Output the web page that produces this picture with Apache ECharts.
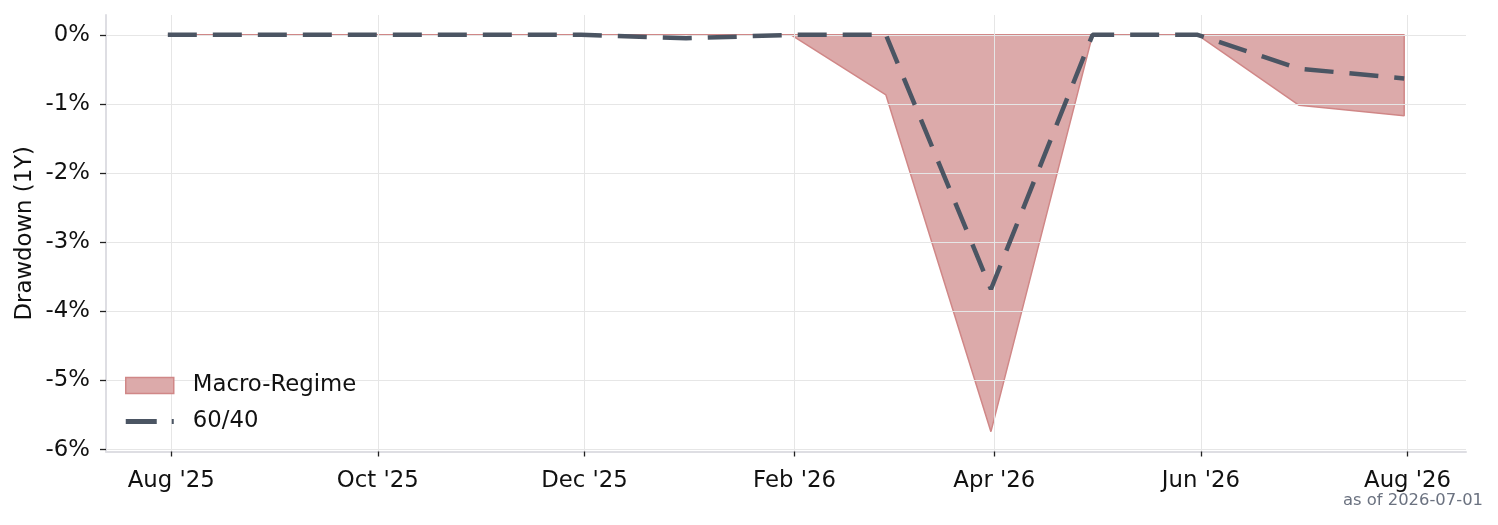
<!DOCTYPE html>
<html>
<head>
<meta charset="utf-8">
<script src="https://cdn.jsdelivr.net/npm/echarts@6/dist/echarts.min.js"></script>
<style>
html,body{margin:0;padding:0;background:#fff;}
#c{width:1498px;height:525px;}
</style>
</head>
<body>
<div id="c"></div>
<script>
// ---- data ----
const dates = ['2025-07-31','2025-08-31','2025-09-30','2025-10-31','2025-11-30','2025-12-31',
               '2026-01-31','2026-02-28','2026-03-31','2026-04-30','2026-05-31','2026-06-30','2026-07-31'];
const macroRegime = [0, 0, 0, 0, 0, 0, 0, -0.87, -5.74, 0, 0, -1.02, -1.17];
const sixtyForty  = [0, 0, 0, 0, 0, -0.05, 0, 0, -3.68, 0, 0, -0.49, -0.63];
const xTickDates = ['2025-08-01','2025-10-01','2025-12-01','2026-02-01','2026-04-01','2026-06-01','2026-08-01'];
const yTicks = [0, -1, -2, -3, -4, -5, -6];
const monthNames = ['Jan','Feb','Mar','Apr','May','Jun','Jul','Aug','Sep','Oct','Nov','Dec'];
const seriesNames = ['Macro-Regime', '60/40'];
const yAxisTitle = 'Drawdown (1Y)';
const footnote = 'as of 2026-07-01';

// ---- helpers ----
const ts = s => { const [y,m,d] = s.split('-').map(Number); return Date.UTC(y, m-1, d); };
const xs = dates.map(ts);
const macroData = xs.map((x,i) => [x, macroRegime[i]]);
const lineData = xs.map((x,i) => [x, sixtyForty[i]]);
const outlineData = macroData.concat([[xs[xs.length-1], 0], [xs[0], 0]]);

const span = xs[xs.length-1] - xs[0];
const xMin = xs[0] - 0.05*span, xMax = xs[xs.length-1] + 0.05*span;
const allY = macroRegime.concat(sixtyForty);
const dMin = Math.min(...allY), dMax = Math.max(...allY);
const yMin = dMin - 0.05*(dMax-dMin), yMax = dMax + 0.05*(dMax-dMin);

const FONT = 'DejaVu Sans';
const FS = 22.8;
const fillColor = '#dcaaaa';
const edgeColor = '#d08787';
const lineColor = '#4b5563';
// dashed legend glyph (48 x 16 box): dash, gap, start of next dash
const dashIcon = 'path://M0,0 L0,0 M48,16 L48,16 M0,5.5 L31,5.5 L31,10.5 L0,10.5 Z M46,5.5 L48,5.5 L48,10.5 L46,10.5 Z';

const chart = echarts.init(document.getElementById('c'), null, {renderer:'canvas'});
chart.setOption({
  animation: false,
  backgroundColor: '#ffffff',
  textStyle: {fontFamily: FONT},
  grid: {left: 106, right: 32, top: 15, bottom: 73.5, containLabel: false},
  xAxis: {
    type: 'value', min: xMin, max: xMax, z: 2, scale: true,
    axisLine: {show: true, onZero: false, lineStyle: {color: '#dedee3', width: 2}},
    axisTick: {show: true, length: 5, lineStyle: {color: '#222', width: 1.3}, customValues: xTickDates.map(ts)},
    axisLabel: {
      customValues: xTickDates.map(ts), margin: 18, fontSize: FS, color: '#111', fontFamily: FONT,
      formatter: v => { const d = new Date(v); return monthNames[d.getUTCMonth()] + " '" + String(d.getUTCFullYear()).slice(2); }
    },
    splitLine: {show: true, lineStyle: {color: '#e6e6e6', width: 1}}
  },
  yAxis: {
    type: 'value', min: yMin, max: yMax, z: 2,
    name: yAxisTitle, nameLocation: 'middle', nameGap: 69, nameMoveOverlap: false,
    nameTextStyle: {fontSize: FS, color: '#111', fontFamily: FONT},
    axisLine: {show: true, lineStyle: {color: '#dedee3', width: 2}},
    axisTick: {show: true, length: 6, lineStyle: {color: '#222', width: 1.3}, customValues: yTicks},
    axisLabel: {customValues: yTicks, margin: 16, fontSize: FS, color: '#111', fontFamily: FONT,
      padding: [4, 0, 0, 0],
      formatter: v => Math.round(v) + '%'},
    splitLine: {show: true, lineStyle: {color: '#e6e6e6', width: 1}}
  },
  legend: {
    orient: 'vertical', left: 125, top: 374, padding: 0, itemWidth: 48, itemHeight: 16, itemGap: 13,
    textStyle: {fontSize: FS, color: '#111', fontFamily: FONT, padding: [0,0,0,14]},
    data: [
      {name: seriesNames[0], icon: 'rect', itemStyle: {color: fillColor, borderColor: edgeColor, borderWidth: 1.5}},
      {name: seriesNames[1], icon: dashIcon, itemStyle: {color: lineColor, borderWidth: 0}}
    ]
  },
  graphic: [{
    type: 'text', right: 15, top: 493,
    style: {text: footnote, fontSize: 16.4, fill: '#6b7280', fontFamily: FONT}
  }],
  series: [
    {
      name: seriesNames[0], type: 'line', data: macroData, symbol: 'none', z: 1,
      itemStyle: {color: fillColor},
      lineStyle: {width: 0, color: edgeColor},
      areaStyle: {color: fillColor, opacity: 1, origin: 0}
    },
    {
      name: 'outline', type: 'line', data: outlineData, symbol: 'none', z: 1,
      lineStyle: {width: 1.5, color: edgeColor}, silent: true
    },
    {
      name: seriesNames[1], type: 'line', data: lineData, symbol: 'none', z: 3,
      itemStyle: {color: lineColor},
      lineStyle: {width: 4.5, color: lineColor, type: [29, 16], cap: 'butt'}
    }
  ]
});
</script>
</body>
</html>
